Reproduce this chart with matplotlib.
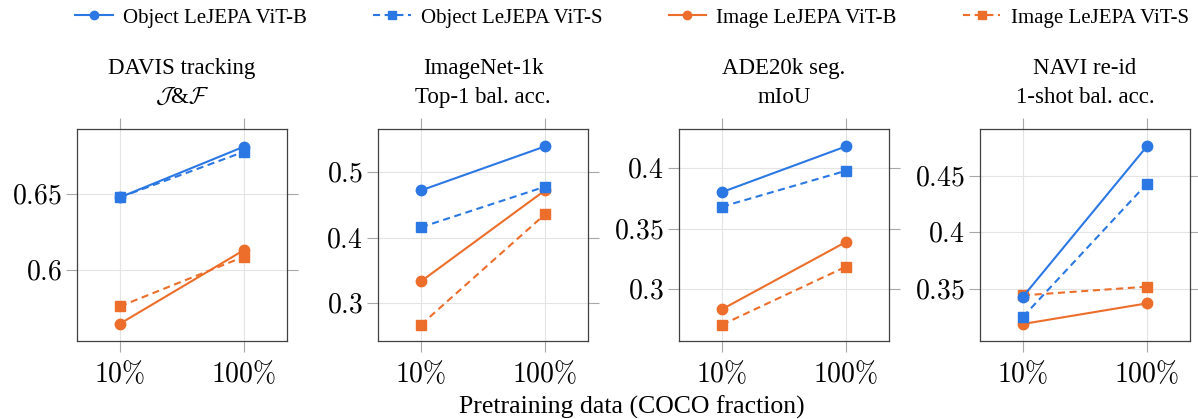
import matplotlib
matplotlib.use("Agg")
import matplotlib.pyplot as plt
from matplotlib.lines import Line2D

plt.rcParams['font.family'] = ['Liberation Serif', 'DejaVu Serif']
plt.rcParams['mathtext.fontset'] = 'cm'

# ---------------- data ----------------
fractions = ["10%", "100%"]
titles_line1 = ["DAVIS tracking", "ImageNet-1k", "ADE20k seg.", "NAVI re-id"]
titles_line2 = [r"$\mathcal{J}$&$\mathcal{F}$", "Top-1 bal. acc.", "mIoU", "1-shot bal. acc."]
series_names = ["Object LeJEPA ViT-B", "Object LeJEPA ViT-S",
                "Image LeJEPA ViT-B", "Image LeJEPA ViT-S"]

davis = [[0.648, 0.6816], [0.648, 0.6782], [0.5642, 0.613], [0.5757, 0.6086]]
imagenet = [[0.472, 0.539], [0.4158, 0.4776], [0.3335, 0.472], [0.2674, 0.4356]]
ade20k = [[0.3803, 0.4182], [0.3682, 0.398], [0.2832, 0.339], [0.2704, 0.3185]]
navi = [[0.343, 0.4764], [0.3251, 0.4432], [0.3187, 0.337], [0.3441, 0.3518]]
panels = [davis, imagenet, ade20k, navi]

yticks = [[0.6, 0.65], [0.3, 0.4, 0.5], [0.3, 0.35, 0.4], [0.35, 0.4, 0.45]]
ytick_labels = [["0.6", "0.65"], ["0.3", "0.4", "0.5"],
                ["0.3", "0.35", "0.4"], ["0.35", "0.4", "0.45"]]
ylims = [(0.5527, 0.6933), (0.2426, 0.5655), (0.2569, 0.4326), (0.3036, 0.4917)]

# ---------------- style ----------------
BLUE = "#2b78e4"
ORANGE = "#ec6e2a"
colors = [BLUE, BLUE, ORANGE, ORANGE]
markers = ["o", "s", "o", "s"]
msizes = [7.5, 7, 7.5, 7]
dash = (0, (3.4, 2.2))
lstyles = ["-", dash, "-", dash]

W, H = 1198, 419
fig = plt.figure(figsize=(W / 100, H / 100), dpi=100)

lefts_px = [77, 378, 679, 980]
ax_w, ax_top, ax_bot = 210, 129, 341

xpos = [0, 1]
for i, data in enumerate(panels):
    ax = fig.add_axes([lefts_px[i] / W, (H - ax_bot) / H, ax_w / W, (ax_bot - ax_top) / H])
    for j, vals in enumerate(data):
        ax.plot(xpos, vals, color=colors[j], marker=markers[j], ms=msizes[j],
                lw=1.5, linestyle=lstyles[j], zorder=3 + (3 - j) * 0.1)
    ax.set_xlim(-0.347, 1.347)
    ax.set_ylim(*ylims[i])
    ax.set_xticks(xpos)
    ax.set_xticklabels([r"$%s$" % f.replace("%", r"\%") for f in fractions])
    ax.set_yticks(yticks[i])
    ax.set_yticklabels([r"$%s$" % t for t in ytick_labels[i]])
    ax.grid(True, color="#e4e4e4", lw=0.8, zorder=0)
    ax.tick_params(direction="out", length=8, width=0.8, color="#a8a8a8",
                   labelsize=20, top=True, right=True, pad=3)
    ax.tick_params(axis="x", pad=6)
    for s in ax.spines.values():
        s.set_color("#404040")
        s.set_linewidth(0.9)
    cx = (lefts_px[i] + ax_w / 2) / W
    fig.text(cx, (H - 74) / H, titles_line1[i], ha="center", va="baseline", fontsize=16.5)
    fig.text(cx, (H - 103) / H, titles_line2[i], ha="center", va="baseline", fontsize=16.5)

fig.text(632 / W, 5 / H, "Pretraining data (COCO fraction)", ha="center",
         va="baseline", fontsize=18.5)

handles = [Line2D([0], [0], color=colors[j], marker=markers[j], ms=msizes[j] - 1.5,
                  lw=1.5, linestyle=lstyles[j]) for j in range(4)]
fig.legend(handles, series_names, loc="center", bbox_to_anchor=(632 / W, (H - 18) / H),
           ncol=4, frameon=False, fontsize=15, handlelength=1.8, handletextpad=0.5,
           columnspacing=3.17, borderpad=0)

fig.savefig("out.png", dpi=100)
